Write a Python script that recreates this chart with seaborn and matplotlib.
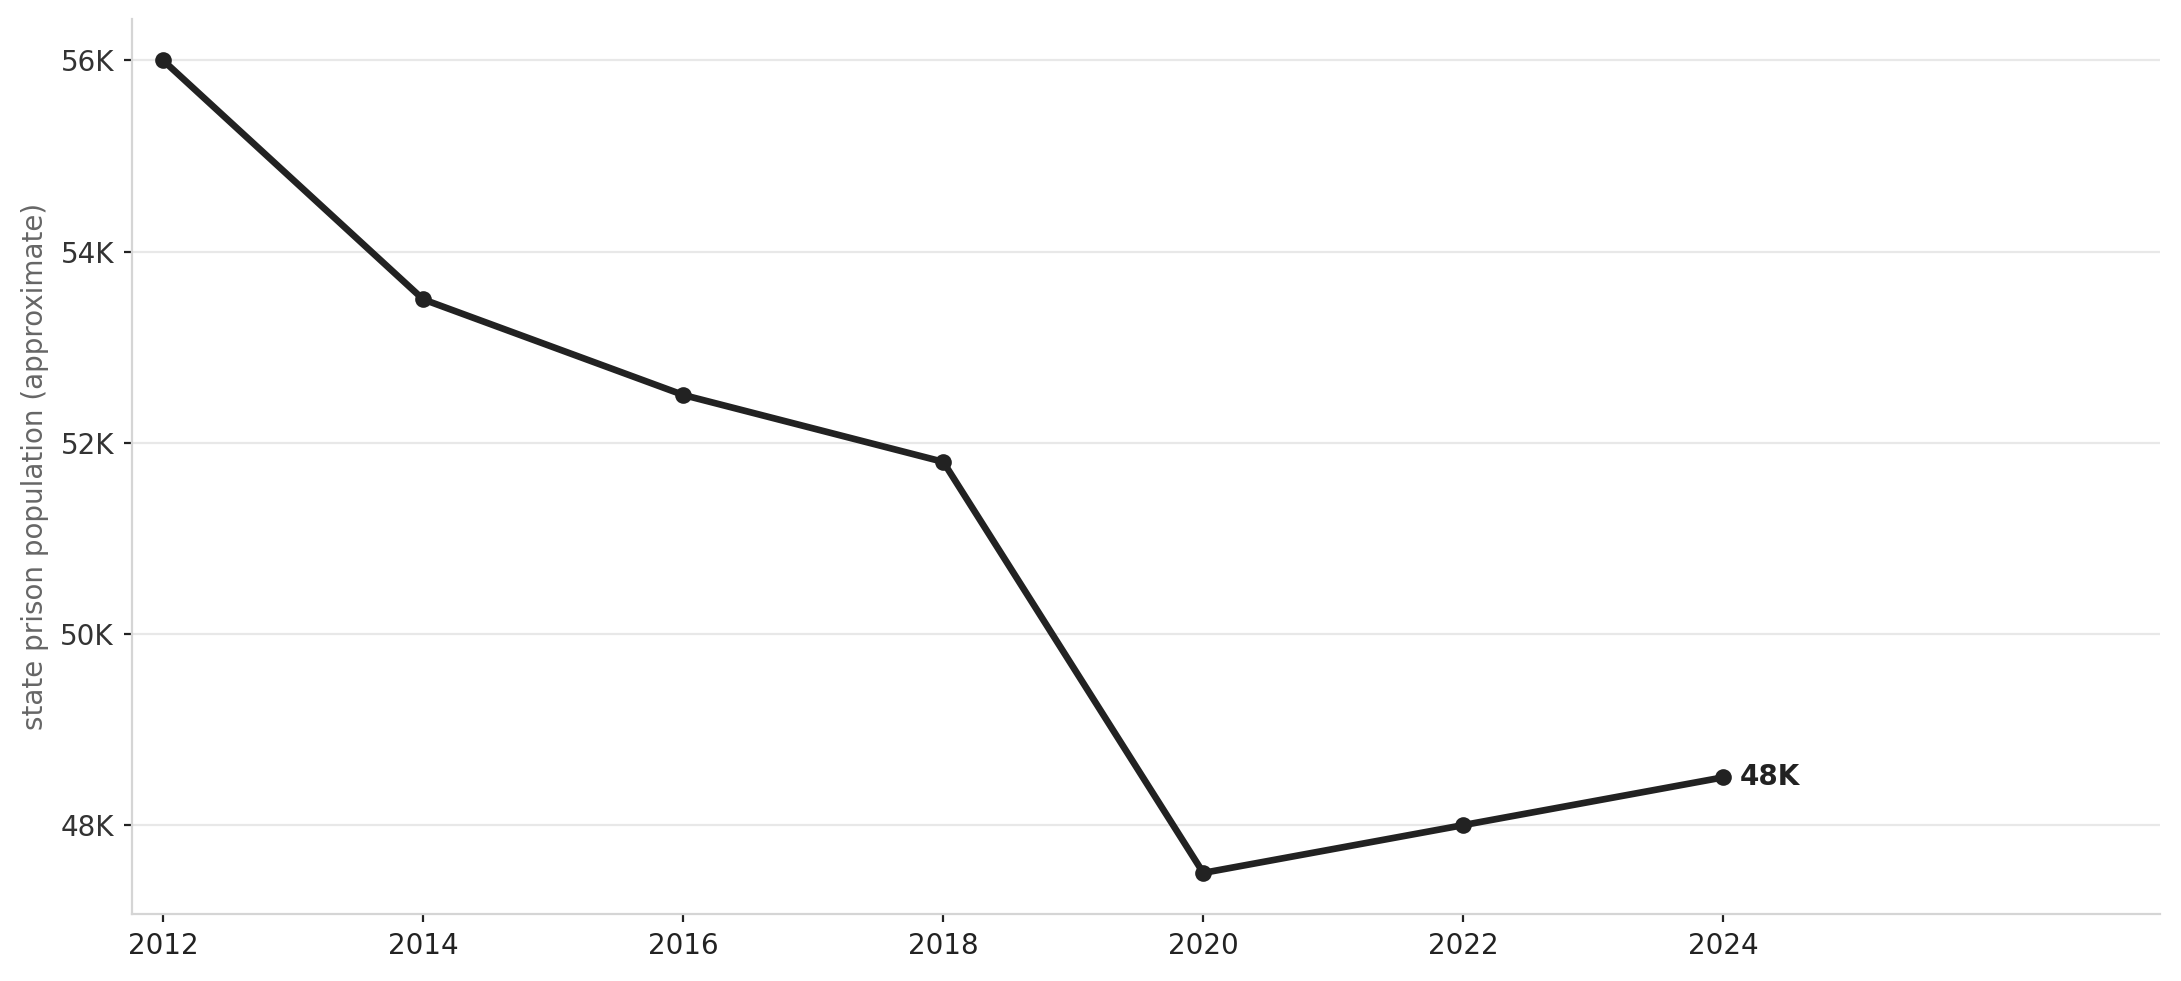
import matplotlib
matplotlib.use("Agg")
import matplotlib.pyplot as plt
import matplotlib.ticker as mticker
import seaborn as sns
import pandas as pd

years = [2012, 2014, 2016, 2018, 2020, 2022, 2024]
population = [56000, 53500, 52500, 51800, 47500, 48000, 48500]
y_ticks = [48000, 50000, 52000, 54000, 56000]
last_label = "48K"

sns.set_theme(style="white")
plt.rcParams["font.family"] = ["DejaVu Sans"]

df = pd.DataFrame({"year": years, "population": population})

fig, ax = plt.subplots(figsize=(10.905, 4.905), dpi=200)
fig.subplots_adjust(left=0.0605, right=0.9905, top=0.981, bottom=0.068)

sns.lineplot(data=df, x="year", y="population", ax=ax, color="#222222",
             linewidth=2.4, marker="o", markersize=6, markeredgewidth=0)

ax.set_xlim(2011.76, 2027.36)
ax.set_ylim(47067, 56437)
ax.set_xticks(years)
ax.set_yticks(y_ticks)
ax.yaxis.set_major_formatter(mticker.FuncFormatter(lambda v, p: f"{int(v/1000)}K"))

ax.grid(axis="y", color="#e8e8e8", linewidth=0.8)
ax.grid(axis="x", visible=False)
for s in ["top", "right"]:
    ax.spines[s].set_visible(False)
for s in ["left", "bottom"]:
    ax.spines[s].set_color("#d5d5d5")
    ax.spines[s].set_linewidth(0.8)

ax.tick_params(axis="both", which="major", bottom=True, left=True, length=3,
               width=0.8, color="#222222", labelsize=10, pad=3.5)
ax.tick_params(axis="y", labelcolor="#333333")
ax.tick_params(axis="x", labelcolor="#222222")
ax.set_xlabel("")
ax.set_ylabel("state prison population (approximate)", color="#666666", fontsize=10)

ax.annotate(last_label, xy=(years[-1], population[-1]), xytext=(6, 0),
            textcoords="offset points", va="center", ha="left",
            fontsize=10, fontweight="bold", color="#222222")

fig.savefig("out.png", dpi=200)
